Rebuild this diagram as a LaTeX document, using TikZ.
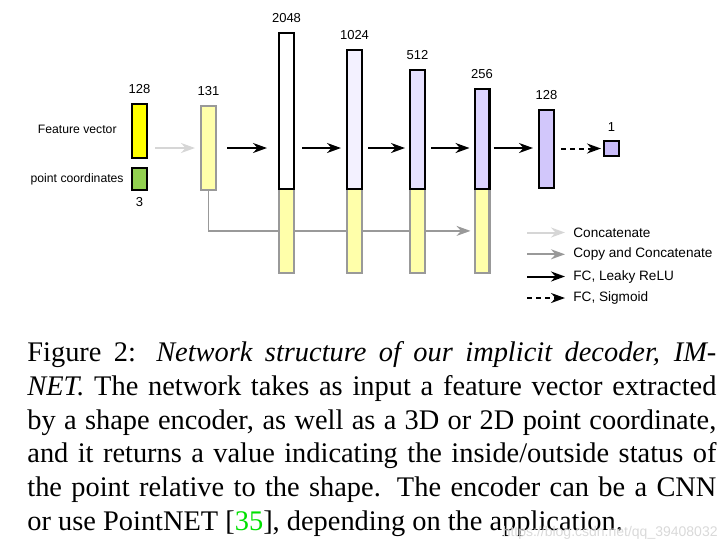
\documentclass[tikz,border=0pt]{standalone}
\usepackage{fontspec}
\setmainfont{Liberation Serif}
\setsansfont{Liberation Sans}
\usetikzlibrary{arrows.meta,positioning,backgrounds}
\definecolor{NetYellow}{HTML}{FFFF00}
\definecolor{NetGreen}{HTML}{92D050}
\definecolor{NetCat}{HTML}{FFFFAA}
\definecolor{NetGrey}{HTML}{999999}
\definecolor{NetLight}{HTML}{D6D6D6}
\definecolor{NetLavA}{HTML}{F3F1FF}
\definecolor{NetLavB}{HTML}{E6E1FF}
\definecolor{NetLavC}{HTML}{DCD4FF}
\definecolor{NetLavD}{HTML}{D2C7FB}
\definecolor{NetLavE}{HTML}{C9BCF9}
\definecolor{CiteGreen}{HTML}{00E000}
\tikzset{
  netbox/.style={
    draw=black,
    line width=1.2pt,
    inner sep=0pt,
    minimum width=7.3pt
  },
  catbox/.style={
    draw=NetGrey,
    fill=NetCat,
    line width=1.2pt,
    inner sep=0pt,
    minimum width=7.3pt
  },
  netlbl/.style={font=\sffamily\fontsize{6.5}{7}\selectfont,inner sep=0pt},
  inname/.style={font=\sffamily\fontsize{6.1}{7}\selectfont,inner sep=0pt},
  legtext/.style={font=\sffamily\fontsize{6.8}{8}\selectfont,inner sep=0pt,anchor=west},
  concatflow/.style={-{Stealth[length=7pt,width=5pt]},draw=NetLight,line width=1pt},
  copyflow/.style={-{Stealth[length=7pt,width=5pt]},draw=NetGrey,line width=0.8pt},
  fcflow/.style={-{Stealth[length=7pt,width=5pt]},draw=black,line width=1pt},
  sigflow/.style={fcflow,dash pattern=on 2.5pt off 2pt}
}

\begin{document}
\begin{tikzpicture}[
  x=0.5pt,y=-0.5pt,
  top/.style={label={[netlbl,label distance=4.3pt]above:#1}}
]
  \useasboundingbox (0,0) rectangle (728,554);

  % inputs
  \node[netbox,fill=NetYellow,minimum height=26.8pt,top=128] (feat) at (139.5,131) {};
  \node[netbox,fill=NetGreen,minimum height=10.8pt,
    label={[netlbl,label distance=3.2pt]below:3}] (coord) at (139.5,179) {};
  \node[inname,left=7pt of feat,yshift=1pt] (featname) {Feature vector};
  \node[inname,left=3.5pt of coord] (coordname) {point coordinates};
  \node[catbox,minimum height=41.8pt,top=131] (cat) at (208.5,148) {};

  % copied input under each layer
  \node[catbox,minimum height=41.9pt] (low2048) at (286.5,230.9) {};
  \node[catbox,minimum height=41.9pt] (low1024) at (354.5,230.9) {};
  \node[catbox,minimum height=41.9pt] (low512) at (417.5,230.9) {};
  \node[catbox,minimum height=41.9pt] (low256) at (482,230.9) {};

  % hidden layers
  \node[netbox,fill=white,minimum height=77.9pt,top=2048] (h2048) at (286.5,111.1) {};
  \node[netbox,fill=NetLavA,minimum height=69.4pt,top=1024] (h1024) at (354.5,119.6) {};
  \node[netbox,fill=NetLavB,minimum height=59.4pt,top=512] (h512) at (417.5,129.6) {};
  \node[netbox,fill=NetLavC,minimum height=49.9pt,top=256] (h256) at (482,139.1) {};
  \node[netbox,fill=NetLavD,minimum height=38.8pt,top=128] (h128) at (546.5,149) {};
  \node[netbox,fill=NetLavE,minimum height=7.3pt,top=1] (out) at (611.5,148.5) {};

  \draw[concatflow,shorten <=3.5pt,shorten >=2.5pt] (feat.east |- cat.west) -- (cat.west);
  \draw[fcflow,shorten <=5pt,shorten >=5.5pt] (cat.east) -- (cat.east -| h2048.west);
  \draw[fcflow,shorten <=3.5pt,shorten >=2.5pt] (h2048.east |- cat.east) -- (h1024.west |- cat.east);
  \draw[fcflow,shorten <=2.5pt,shorten >=2pt] (h1024.east |- cat.east) -- (h512.west |- cat.east);
  \draw[fcflow,shorten <=2.5pt,shorten >=2pt] (h512.east |- cat.east) -- (h256.west |- cat.east);
  \draw[fcflow,shorten <=1.5pt,shorten >=2.5pt] (h256.east |- cat.east) -- (h128.west |- cat.east);
  \draw[sigflow,shorten <=3pt,shorten >=1pt] (h128.east |- out.west) -- (out.west);
  \begin{scope}[on background layer]
    \draw[copyflow,shorten >=1.5pt] (cat.south) |- (low256.west);
  \end{scope}

  % legend
  \node[legtext] (lgcat) at (573,232.5) {Concatenate};
  \node[legtext] (lgcopy) at (573,254.3) {Copy and Concatenate};
  \node[legtext] (lgfc) at (573,276.5) {FC, Leaky ReLU};
  \node[legtext] (lgsig) at (573,298) {FC, Sigmoid};
  \coordinate (lgcatstart) at (527,232.5);
  \coordinate (lgcopystart) at (527,254.3);
  \coordinate (lgfcstart) at (527,276.5);
  \coordinate (lgsigstart) at (527,298);
  \draw[concatflow,shorten >=4pt] (lgcatstart) -- (lgcat.west);
  \draw[copyflow,line width=1pt,shorten >=4pt] (lgcopystart) -- (lgcopy.west);
  \draw[fcflow,shorten >=4pt] (lgfcstart) -- (lgfc.west);
  \draw[sigflow,shorten >=4pt] (lgsigstart) -- (lgsig.west);

  % caption
  \node[anchor=north west,inner sep=0pt,text width=344.5pt,align=justify,
    font=\fontsize{14.2}{16.9}\selectfont] (caption) at (27,341)
    {Figure 2: \emph{Network structure of our implicit decoder, IM-}\linebreak
     \emph{NET.} The network takes as input a feature vector extracted\linebreak
     by a shape encoder, as well as a 3D or 2D point coordinate,\linebreak
     and it returns a value indicating the inside/outside status of\linebreak
     the point relative to the shape.  The encoder can be a CNN\linebreak
     or use PointNET [\textcolor{CiteGreen}{35}], depending on the application.};
  \node[anchor=east,inner sep=0pt,text=black!15,font=\sffamily\fontsize{7}{8}\selectfont]
    (mark) at (718,533) {https://blog.csdn.net/qq\_39408032};
\end{tikzpicture}
\end{document}
